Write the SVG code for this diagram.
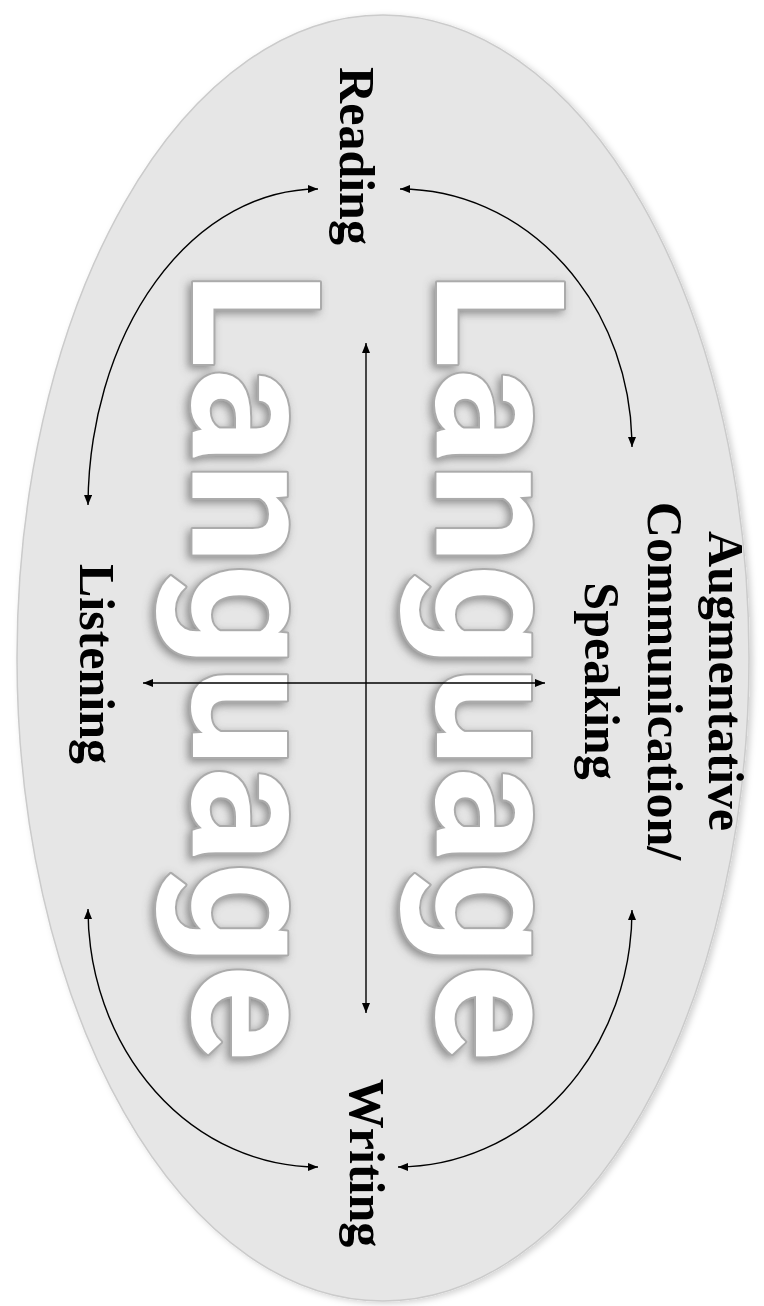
<svg xmlns="http://www.w3.org/2000/svg" width="764" height="1306" viewBox="0 0 764 1306">
<defs>
  <style>
    .lbl { font-family: "Liberation Serif", "Times New Roman", serif; font-weight: bold; font-size: 50px; fill: #000; text-anchor: middle; }
    .big { font-family: Roboto, "Liberation Sans", Arial, sans-serif; font-weight: bold; font-size: 178px; fill: #ffffff; stroke: #ababab; stroke-width: 4; stroke-linejoin: round; paint-order: stroke; }
    .conn { fill: none; stroke: #000; stroke-width: 1.4; }
  </style>
  <marker id="ah" viewBox="0 0 10 8" refX="10" refY="4" markerWidth="10" markerHeight="8" markerUnits="userSpaceOnUse" orient="auto-start-reverse">
    <path d="M0,0 L10,4 L0,8 Z" fill="#000"/>
  </marker>
  <filter id="emb" x="-10%" y="-10%" width="120%" height="120%">
    <feGaussianBlur in="SourceAlpha" stdDeviation="4" result="blur"/>
    <feOffset in="blur" dx="-3" dy="3" result="off"/>
    <feFlood flood-color="#6e6e6e" flood-opacity="0.75"/>
    <feComposite in2="off" operator="in" result="shadow"/>
    <feMerge><feMergeNode in="shadow"/><feMergeNode in="SourceGraphic"/></feMerge>
  </filter>
  <filter id="esh" x="-5%" y="-5%" width="110%" height="110%">
    <feGaussianBlur in="SourceAlpha" stdDeviation="3" result="b"/>
    <feOffset in="b" dx="3" dy="2" result="o"/>
    <feFlood flood-color="#000" flood-opacity="0.18"/>
    <feComposite in2="o" operator="in" result="s"/>
    <feMerge><feMergeNode in="s"/><feMergeNode in="SourceGraphic"/></feMerge>
  </filter>
</defs>
<rect width="764" height="1306" fill="#ffffff"/>
<g id="oval">
  <ellipse cx="383" cy="658" rx="366" ry="643" fill="#e6e6e6" stroke="#cbcbcb" stroke-width="1.5" filter="url(#esh)"/>
</g>
<g id="watermark" filter="url(#emb)">
  <text class="big" transform="translate(193,271) rotate(90)" textLength="790" lengthAdjust="spacingAndGlyphs">Language</text>
  <text class="big" transform="translate(437,271) rotate(90)" textLength="790" lengthAdjust="spacingAndGlyphs">Language</text>
</g>
<g id="connectors">
  <path class="conn" d="M366,1013 L366,343" marker-start="url(#ah)" marker-end="url(#ah)"/>
  <path class="conn" d="M143,683 L545,683" marker-start="url(#ah)" marker-end="url(#ah)"/>
  <path class="conn" d="M88,505 A230,318 0 0 1 318,189" marker-start="url(#ah)" marker-end="url(#ah)"/>
  <path class="conn" d="M632,447 A232,258 0 0 0 400,189" marker-start="url(#ah)" marker-end="url(#ah)"/>
  <path class="conn" d="M88,909 A230,258 0 0 0 318,1167" marker-start="url(#ah)" marker-end="url(#ah)"/>
  <path class="conn" d="M632,910 A234,257 0 0 1 398,1167" marker-start="url(#ah)" marker-end="url(#ah)"/>
</g>
<g id="node-reading">
  <text class="lbl" transform="translate(340,156) rotate(90)">Reading</text>
</g>
<g id="node-speaking">
  <text class="lbl" transform="translate(709,681) rotate(90)">Augmentative</text>
  <text class="lbl" transform="translate(648,681) rotate(90)">Communication/</text>
  <text class="lbl" transform="translate(585,681) rotate(90)">Speaking</text>
</g>
<g id="node-listening">
  <text class="lbl" transform="translate(80,664) rotate(90)">Listening</text>
</g>
<g id="node-writing">
  <text class="lbl" transform="translate(350,1163) rotate(90)">Writing</text>
</g>
</svg>
